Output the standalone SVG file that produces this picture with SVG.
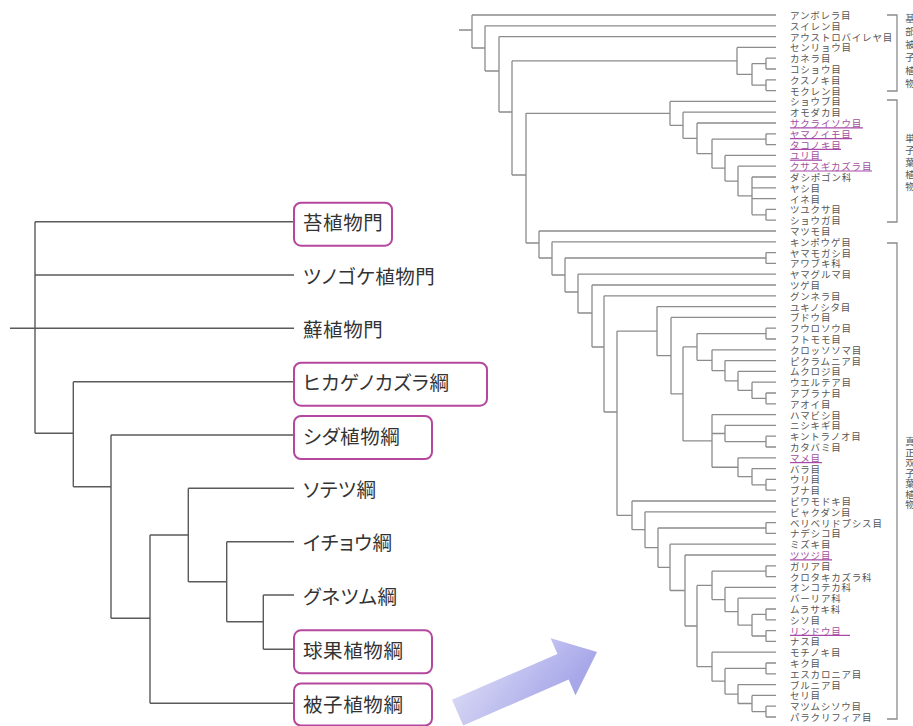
<svg xmlns="http://www.w3.org/2000/svg" width="913" height="726" viewBox="0 0 913 726">
<defs>
<style>
.lt{fill:none;stroke:#5a5a5a;stroke-width:1.4}
.ln{fill:none;stroke:#8c8c8c;stroke-width:1.3}
.big{font-family:"Noto Sans CJK JP","Noto Sans",sans-serif;font-size:19.5px;fill:#333;letter-spacing:0.6px;font-feature-settings:"palt" 1}
.box{fill:#fff;stroke:#b4489e;stroke-width:2}
.lab{font-family:"Noto Sans CJK JP","Noto Sans",sans-serif;font-size:9.5px;fill:#555;letter-spacing:0.8px;dominant-baseline:central}
.labp{font-family:"Noto Sans CJK JP","Noto Sans",sans-serif;font-size:9.5px;fill:#a0509e;letter-spacing:0.8px;dominant-baseline:central}
.ul{stroke:#a848a8;stroke-width:1.2}
.vt{font-family:"Noto Sans CJK JP","Noto Sans",sans-serif;font-size:9.5px;fill:#555;writing-mode:vertical-rl}
</style>
<linearGradient id="ag" x1="0" y1="0" x2="1" y2="0">
<stop offset="0" stop-color="#d4d4f6"/>
<stop offset="0.6" stop-color="#b4b4ef"/>
<stop offset="1" stop-color="#a2a2ea"/>
</linearGradient>
<linearGradient id="ag2" x1="0" y1="0" x2="0" y2="1">
<stop offset="0" stop-color="#ffffff" stop-opacity="0.25"/>
<stop offset="1" stop-color="#8080d0" stop-opacity="0.2"/>
</linearGradient>
</defs>
<rect width="913" height="726" fill="#fff"/>

<g id="connectors">
<g id="left-tree-lines">
<path class="lt" d="M10,328.3H294M35,221.7V433.3M35,221.7H294M35,275H294M35,433.3H73.3M73.3,381.7V486.7M73.3,381.7H294M73.3,486.7H111M111,435V618.3M111,435H294M111,618.3H150M150,535V703.3M150,535H188.3M150,703.3H294M188.3,488.3V581.7M188.3,488.3H294M188.3,581.7H226.7M226.7,541.7V621.7M226.7,541.7H294M226.7,621.7H263.3M263.3,595V649.3M263.3,595H294M263.3,649.3H294"/>
</g>
<g id="right-tree-lines">
<path class="ln" d="M459,30H472M472,15V48M472,15H776M472,48H485
M485,25.8V71M485,25.8H776M485,71H499
M499,36.6V112M499,36.6H776M499,112H512
M512,60.9V175M512,60.9H737M512,175H526
M737,47.4V74.4M737,47.4H776M737,74.4H752
M752,63.6V85.2M752,63.6H766M752,85.2H766
M766,58.2V69M766,58.2H776M766,69H776
M766,79.8V90.6M766,79.8H776M766,90.6H776
M526,113.3V243M526,113.3H670M526,243H539
M670,101.4V125.3M670,101.4H776M670,125.3H683
M683,112.2V138.35M683,112.2H776M683,138.35H697
M697,123V153.7M697,123H776M697,153.7H712
M712,139.2V168.2M712,139.2H766M712,168.2H725
M766,133.8V144.6M766,133.8H776M766,144.6H776
M725,155.4V181.05M725,155.4H776M725,181.05H738
M738,166.2V195.9M738,166.2H776M738,195.9H752
M752,177V214.8M752,177H776M752,187.8H776M752,198.6H776M752,214.8H766
M766,209.4V220.2M766,209.4H776M766,220.2H776
M539,231V258M539,231H776M539,258H552
M552,241.8V275M552,241.8H776M552,275H565
M565,258V292M565,258H766M565,292H578
M766,252.6V263.4M766,252.6H776M766,263.4H776
M578,274.2V313M578,274.2H776M578,313H592
M592,285V347M592,285H776M592,347H604
M604,295.8V412M604,295.8H776M604,412H617
M617,331.1V515.4M617,331.1H657M617,515.4H632
M657,306.6V355.65M657,306.6H776M657,355.65H671
M671,317.4V393.9M671,317.4H776M671,393.9H683
M683,346.9V440.9M683,346.9H697M683,440.9H712
M697,333.6V360.3M697,333.6H766M697,360.3H712
M766,328.2V339M766,328.2H776M766,339H776
M712,349.8V370.7M712,349.8H776M712,370.7H725
M725,360.6V380.85M725,360.6H776M725,380.85H738
M738,371.4V390.3M738,371.4H776M738,390.3H752
M752,382.2V398.4M752,382.2H776M752,398.4H766
M766,393V403.8M766,393H776M766,403.8H776
M712,414.6V467.25M712,414.6H776M712,433.5H725M712,467.25H738
M725,425.4V441.6M725,425.4H776M725,441.6H766
M766,436.2V447M766,436.2H776M766,447H776
M738,457.8V476.7M738,457.8H776M738,476.7H752
M752,468.6V484.8M752,468.6H776M752,484.8H766
M766,479.4V490.2M766,479.4H776M766,490.2H776
M632,501V529.7M632,501H776M632,529.7H645
M645,511.8V547.7M645,511.8H776M645,547.7H658
M658,528V567.35M658,528H766M658,567.35H670
M766,522.6V533.4M766,522.6H776M766,533.4H776
M670,544.2V590.5M670,544.2H776M670,590.5H685
M685,555V626M685,555H776M685,626H697
M697,585.4V666.7M697,585.4H712M697,666.7H712
M712,571.2V599.55M712,571.2H766M712,599.55H725
M766,565.8V576.6M766,565.8H776M766,576.6H776
M725,587.4V611.7M725,587.4H776M725,611.7H738
M738,598.2V625.2M738,598.2H776M738,625.2H752
M752,614.4V636M752,614.4H766M752,636H766
M766,609V619.8M766,609H776M766,619.8H776
M766,630.6V641.4M766,630.6H776M766,641.4H776
M712,652.2V681.2M712,652.2H776M712,681.2H725
M725,668.4V694.05M725,668.4H766M725,694.05H738
M766,663V673.8M766,663H776M766,673.8H776
M738,684.6V703.5M738,684.6H776M738,703.5H752
M752,695.4V711.6M752,695.4H776M752,711.6H766
M766,706.2V717M766,706.2H776M766,717H776"/>
</g>
<g id="brackets">
<path class="ln" d="M887,15H897V91H887M887,100H897V222H887M887,243H897V719H887"/>
</g>
</g>

<g id="left-nodes">
<g id="L1"><rect class="box" x="294" y="202.7" width="98" height="43" rx="7"/><text class="big" x="303" y="230.2">苔植物門</text></g>
<g id="L2"><text class="big" x="303" y="283.5">ツノゴケ植物門</text></g>
<g id="L3"><text class="big" x="303" y="336.8">蘚植物門</text></g>
<g id="L4"><rect class="box" x="294" y="362.7" width="193" height="43" rx="7"/><text class="big" x="303" y="390.2">ヒカゲノカズラ綱</text></g>
<g id="L5"><rect class="box" x="294" y="416" width="138" height="43" rx="7"/><text class="big" x="303" y="443.5">シダ植物綱</text></g>
<g id="L6"><text class="big" x="303" y="496.8">ソテツ綱</text></g>
<g id="L7"><text class="big" x="303" y="550.2">イチョウ綱</text></g>
<g id="L8"><text class="big" x="303" y="603.5">グネツム綱</text></g>
<g id="L9"><rect class="box" x="294" y="630.3" width="138" height="43" rx="7"/><text class="big" x="303" y="657.8">球果植物綱</text></g>
<g id="L10"><rect class="box" x="294" y="683.5" width="138" height="42" rx="7"/><text class="big" x="303" y="711.8">被子植物綱</text></g>
</g>

<g id="arrow">
<g transform="translate(597,652) rotate(-23.5)">
<path d="M-152,-14H-37V-31L0,0L-37,31V14H-152Z" fill="url(#ag)"/>
<path d="M-152,-14H-37V-31L0,0L-37,31V14H-152Z" fill="url(#ag2)"/>
</g>
</g>

<g id="right-nodes">
<g id="o00"><text class="lab" x="790" y="15">アンボレラ目</text></g>
<g id="o01"><text class="lab" x="790" y="25.8">スイレン目</text></g>
<g id="o02"><text class="lab" x="790" y="36.6">アウストロバイレヤ目</text></g>
<g id="o03"><text class="lab" x="790" y="47.4">センリョウ目</text></g>
<g id="o04"><text class="lab" x="790" y="58.2">カネラ目</text></g>
<g id="o05"><text class="lab" x="790" y="69">コショウ目</text></g>
<g id="o06"><text class="lab" x="790" y="79.8">クスノキ目</text></g>
<g id="o07"><text class="lab" x="790" y="90.6">モクレン目</text></g>
<g id="o08"><text class="lab" x="790" y="101.4">ショウブ目</text></g>
<g id="o09"><text class="lab" x="790" y="112.2">オモダカ目</text></g>
<g id="o10"><text class="labp" x="790" y="123">サクライソウ目</text><line class="ul" x1="790" y1="127.8" x2="863" y2="127.8"/></g>
<g id="o11"><text class="labp" x="790" y="133.8">ヤマノイモ目</text><line class="ul" x1="790" y1="138.6" x2="852" y2="138.6"/></g>
<g id="o12"><text class="labp" x="790" y="144.6">タコノキ目</text><line class="ul" x1="790" y1="149.4" x2="841" y2="149.4"/></g>
<g id="o13"><text class="labp" x="790" y="155.4">ユリ目</text><line class="ul" x1="790" y1="160.2" x2="822" y2="160.2"/></g>
<g id="o14"><text class="labp" x="790" y="166.2">クサスギカズラ目</text><line class="ul" x1="790" y1="171" x2="872" y2="171"/></g>
<g id="o15"><text class="lab" x="790" y="177">ダシポゴン科</text></g>
<g id="o16"><text class="lab" x="790" y="187.8">ヤシ目</text></g>
<g id="o17"><text class="lab" x="790" y="198.6">イネ目</text></g>
<g id="o18"><text class="lab" x="790" y="209.4">ツユクサ目</text></g>
<g id="o19"><text class="lab" x="790" y="220.2">ショウガ目</text></g>
<g id="o20"><text class="lab" x="790" y="231">マツモ目</text></g>
<g id="o21"><text class="lab" x="790" y="241.8">キンポウゲ目</text></g>
<g id="o22"><text class="lab" x="790" y="252.6">ヤマモガシ目</text></g>
<g id="o23"><text class="lab" x="790" y="263.4">アワブキ科</text></g>
<g id="o24"><text class="lab" x="790" y="274.2">ヤマグルマ目</text></g>
<g id="o25"><text class="lab" x="790" y="285">ツゲ目</text></g>
<g id="o26"><text class="lab" x="790" y="295.8">グンネラ目</text></g>
<g id="o27"><text class="lab" x="790" y="306.6">ユキノシタ目</text></g>
<g id="o28"><text class="lab" x="790" y="317.4">ブドウ目</text></g>
<g id="o29"><text class="lab" x="790" y="328.2">フウロソウ目</text></g>
<g id="o30"><text class="lab" x="790" y="339">フトモモ目</text></g>
<g id="o31"><text class="lab" x="790" y="349.8">クロッソソマ目</text></g>
<g id="o32"><text class="lab" x="790" y="360.6">ピクラムニア目</text></g>
<g id="o33"><text class="lab" x="790" y="371.4">ムクロジ目</text></g>
<g id="o34"><text class="lab" x="790" y="382.2">ウエルテア目</text></g>
<g id="o35"><text class="lab" x="790" y="393">アブラナ目</text></g>
<g id="o36"><text class="lab" x="790" y="403.8">アオイ目</text></g>
<g id="o37"><text class="lab" x="790" y="414.6">ハマビシ目</text></g>
<g id="o38"><text class="lab" x="790" y="425.4">ニシキギ目</text></g>
<g id="o39"><text class="lab" x="790" y="436.2">キントラノオ目</text></g>
<g id="o40"><text class="lab" x="790" y="447">カタバミ目</text></g>
<g id="o41"><text class="labp" x="790" y="457.8">マメ目</text><line class="ul" x1="790" y1="462.6" x2="822" y2="462.6"/></g>
<g id="o42"><text class="lab" x="790" y="468.6">バラ目</text></g>
<g id="o43"><text class="lab" x="790" y="479.4">ウリ目</text></g>
<g id="o44"><text class="lab" x="790" y="490.2">ブナ目</text></g>
<g id="o45"><text class="lab" x="790" y="501">ビワモドキ目</text></g>
<g id="o46"><text class="lab" x="790" y="511.8">ビャクダン目</text></g>
<g id="o47"><text class="lab" x="790" y="522.6">ベリベリドプシス目</text></g>
<g id="o48"><text class="lab" x="790" y="533.4">ナデシコ目</text></g>
<g id="o49"><text class="lab" x="790" y="544.2">ミズキ目</text></g>
<g id="o50"><text class="labp" x="790" y="555">ツツジ目</text><line class="ul" x1="790" y1="559.8" x2="832" y2="559.8"/></g>
<g id="o51"><text class="lab" x="790" y="565.8">ガリア目</text></g>
<g id="o52"><text class="lab" x="790" y="576.6">クロタキカズラ科</text></g>
<g id="o53"><text class="lab" x="790" y="587.4">オンコテカ科</text></g>
<g id="o54"><text class="lab" x="790" y="598.2">バーリア科</text></g>
<g id="o55"><text class="lab" x="790" y="609">ムラサキ科</text></g>
<g id="o56"><text class="lab" x="790" y="619.8">シソ目</text></g>
<g id="o57"><text class="labp" x="790" y="630.6">リンドウ目</text><line class="ul" x1="790" y1="635.4" x2="850" y2="635.4"/></g>
<g id="o58"><text class="lab" x="790" y="641.4">ナス目</text></g>
<g id="o59"><text class="lab" x="790" y="652.2">モチノキ目</text></g>
<g id="o60"><text class="lab" x="790" y="663">キク目</text></g>
<g id="o61"><text class="lab" x="790" y="673.8">エスカロニア目</text></g>
<g id="o62"><text class="lab" x="790" y="684.6">ブルニア目</text></g>
<g id="o63"><text class="lab" x="790" y="695.4">セリ目</text></g>
<g id="o64"><text class="lab" x="790" y="706.2">マツムシソウ目</text></g>
<g id="o65"><text class="lab" x="790" y="717">パラクリフィア目</text></g>
</g>

<g id="group-labels">
<g id="G1"><text class="vt" x="910" y="14" letter-spacing="3.5">基部被子植物</text></g>
<g id="G2"><text class="vt" x="910" y="134" letter-spacing="2.3">単子葉植物</text></g>
<g id="G3"><text class="vt" x="910" y="437" letter-spacing="1">真正双子葉植物</text></g>
</g>
</svg>
